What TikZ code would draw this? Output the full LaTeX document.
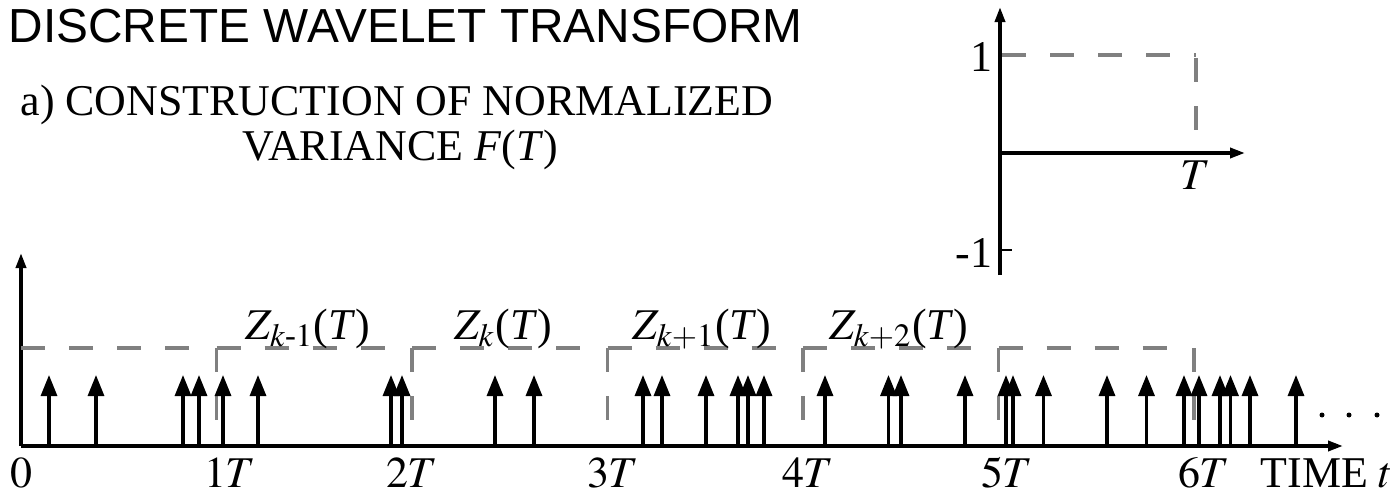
\documentclass[tikz,border=0pt]{standalone}
\usepackage{amsmath}
\usepackage{mathptmx}
\usepackage[no-math]{fontspec}
\setmainfont{Liberation Serif}
\newfontfamily\arialfont{Liberation Sans}
\usepackage{tikz}
\usetikzlibrary{arrows.meta}
\definecolor{dashgray}{RGB}{128,128,128}

\begin{document}
\begin{tikzpicture}[
    spike/.style={line width=0.9pt, -{Triangle[length=0.21cm,width=0.16cm]}},
    axis/.style={line width=1pt, -{Triangle[length=0.15cm,width=0.1cm]}},
    window/.style={dashgray, line width=1pt, dash pattern=on 0.24cm off 0.24cm},
    lbl/.style={font=\fontsize{12.5}{14}\selectfont, inner sep=0pt}]
	\def\T{1.955}
	%\draw[help lines] (-0.21,-0.47) grid (13.78,4.46);
	\useasboundingbox (-0.21,-0.47) rectangle (13.78,4.46);
	% headings
	\node (title) [anchor=base west, inner sep=0pt, font=\arialfont\fontsize{13.6}{16}\selectfont] at (-0.13,4.03) {DISCRETE WAVELET TRANSFORM};
	\node (sub1) [lbl, anchor=base] at (3.76,3.31) {a) CONSTRUCTION OF NORMALIZED};
	\node (sub2) [lbl, anchor=base] at (3.79,2.86) {VARIANCE \textit{F}(\textit{T})};
	% inset: one window
	\coordinate (io) at (9.79,2.93);
	\draw [axis] (9.79,1.71) -- (9.79,4.39);
	\draw [axis] (io) -- (12.24,2.93);
	\draw [line width=0.8pt] (9.79,1.96) -- (9.91,1.96);
	\draw [window] (9.81,3.91) -- (11.75,3.91);
	\draw [window] (11.75,3.88) -- (11.75,3.13);
	\node (one) [lbl, anchor=east] at (9.72,3.89) {1};
	\node (mone) [lbl, anchor=east] at (9.72,1.93) {-1};
	\node (iT) [lbl, anchor=north] at (11.74,2.86) {$T$};
	% time axis
	\coordinate (O) at (0,0);
	\draw [axis] (O) -- (13.22,0);
	\draw [axis] (O) -- (0,1.93);
	\foreach \n in {1,...,6}
	    \draw [window] (\n*\T,0.98) -- (\n*\T,0.24);
	\foreach \n in {0,...,5}
	    \draw [window] (\n*\T,0.98) -- ++(1.8,0);
	% events
	\foreach \x in {0.28,0.75,1.62,1.78,2.02,2.37,3.70,3.81,4.74,5.13,6.22,6.41,6.85,7.17,7.27,7.43,
	    8.04,8.675,8.80,9.44,9.85,9.92,10.225,10.86,11.255,11.63,11.78,11.99,12.095,12.29,12.75}
	    \draw [spike] (\x,0) -- (\x,0.71);
	\foreach \x in {13.01,13.28,13.56}
	    \fill (\x,0.31) circle [radius=.025];
	% labels
	\node (t0) [lbl, anchor=base] at (0,-0.41) {$0$};
	\foreach \n/\lx in {1/2.09,2/3.91,3/5.92,4/7.87,5/9.86,6/11.83}
	    \node (t\n) [lbl, anchor=base] at (\lx,-0.41) {$\n T$};
	\node (time) [lbl, anchor=base west] at (12.39,-0.41) {TIME $t$};
	\node (zm) [lbl, anchor=base] at (2.87,1.07) {$Z_{k\text{-}1}$(\textit{T})};
	\node (z0) [lbl, anchor=base] at (4.82,1.07) {$Z_{k}$(\textit{T})};
	\node (zp) [lbl, anchor=base] at (6.81,1.07) {$Z_{k+1}$(\textit{T})};
	\node (zpp) [lbl, anchor=base] at (8.78,1.07) {$Z_{k+2}$(\textit{T})};
\end{tikzpicture}
\end{document}
